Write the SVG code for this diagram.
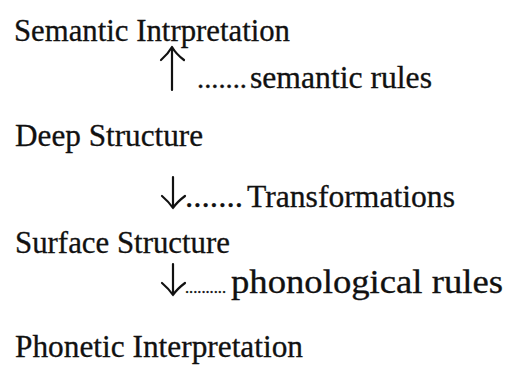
<svg xmlns="http://www.w3.org/2000/svg" width="511" height="367" viewBox="0 0 511 367">
<style>
text{font-family:'Liberation Serif','Times New Roman',serif;fill:#111;stroke:#111;stroke-width:0.3}
.t{font-size:31px}
.d1{font-size:28px}
.d2{font-size:32px}
.d3{font-size:16px}
.p{font-size:33px}
.arr{fill:none;stroke:#111;stroke-width:2.2;stroke-linecap:round;stroke-linejoin:round}
</style>
<rect width="511" height="367" fill="#fff"/>
<g id="node-semantic-interpretation"><text class="t" x="14" y="41" textLength="276" lengthAdjust="spacingAndGlyphs">Semantic Intrpretation</text></g>
<g id="node-deep-structure"><text class="t" x="15" y="146" textLength="188" lengthAdjust="spacingAndGlyphs">Deep Structure</text></g>
<g id="node-surface-structure"><text class="t" x="15" y="253" textLength="215" lengthAdjust="spacingAndGlyphs">Surface Structure</text></g>
<g id="node-phonetic-interpretation"><text class="t" x="15" y="357" textLength="288" lengthAdjust="spacingAndGlyphs">Phonetic Interpretation</text></g>
<g id="connectors">
<g id="edge-semantic-rules">
<path class="arr" d="M172 90 V47 M161 60 Q168 54 172 47 Q176 54 184 60"/>
<text class="d1" x="197" y="88" textLength="50" lengthAdjust="spacingAndGlyphs">.......</text>
<text class="t" x="250" y="88" textLength="182" lengthAdjust="spacingAndGlyphs">semantic rules</text>
</g>
<g id="edge-transformations">
<path class="arr" d="M173 177 V208 M162 196 Q169 202 173 208 Q177 202 185 196"/>
<text class="d2" x="185" y="207" textLength="58" lengthAdjust="spacingAndGlyphs">.......</text>
<text class="t" x="247" y="207" textLength="208" lengthAdjust="spacingAndGlyphs">Transformations</text>
</g>
<g id="edge-phonological-rules">
<path class="arr" d="M173 264 V295 M162 283 Q169 289 173 295 Q177 289 185 283"/>
<text class="d3" x="185" y="293" textLength="41" lengthAdjust="spacingAndGlyphs">..........</text>
<text class="p" x="231" y="293" textLength="272" lengthAdjust="spacingAndGlyphs">phonological rules</text>
</g>
</g>
</svg>
